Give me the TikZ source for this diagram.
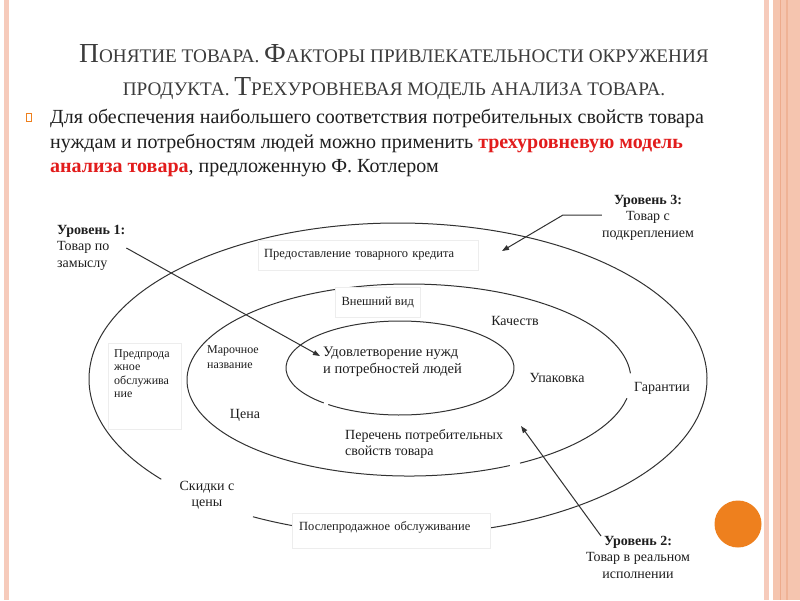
\documentclass[tikz,border=0pt]{standalone}
\usepackage{fontspec}
\setmainfont{Liberation Serif}
\usetikzlibrary{arrows.meta}
\definecolor{stripe}{RGB}{246,203,187}
\definecolor{band}{RGB}{245,197,175}
\definecolor{darkstripe}{RGB}{237,171,140}
\definecolor{orng}{RGB}{238,128,30}
\definecolor{redtxt}{RGB}{226,28,28}
\definecolor{titlecol}{RGB}{60,60,60}
\definecolor{txt}{RGB}{30,30,30}
\definecolor{linecol}{RGB}{50,50,50}
\newcommand\tbig[1]{{\fontsize{27.5}{30}\selectfont #1}}
\tikzset{
  titlest/.style={font=\fontsize{19.2}{30}\selectfont, text=titlecol, inner sep=0pt},
  bodyst/.style={font=\fontsize{20}{24.5}\selectfont, text=txt, align=left, inner sep=0pt},
  lbl/.style={font=\fontsize{14}{16}\selectfont, text=txt, inner sep=1pt},
  lvl/.style={font=\fontsize{14}{16.5}\selectfont, text=txt, inner sep=0pt},
  smalllbl/.style={font=\fontsize{12}{15}\selectfont, text=txt, inner sep=0pt},
  boxst/.style={draw=black!7, fill=white, font=\fontsize{12.5}{14}\selectfont, text=txt},
  ell/.style={draw=linecol, line width=1pt},
  arr/.style={draw=linecol, line width=1pt, -{Triangle[length=7pt,width=5pt]}}
}
\begin{document}
\begin{tikzpicture}[x=1pt,y=-1pt]
\useasboundingbox (0,0) rectangle (800,600);
\fill[white] (0,0) rectangle (800,600);
% borders
\fill[stripe] (4,0) rectangle (8.5,600);
\fill[stripe] (764,0) rectangle (768.5,600);
\fill[band] (773,0) rectangle (800,600);
\fill[darkstripe] (779.5,0) rectangle (781,600);
\fill[darkstripe!70!band] (786,0) rectangle (787.5,600);
% title
\node[titlest, anchor=base] (t1) at (394,62) {\tbig{П}ОНЯТИЕ ТОВАРА. \tbig{Ф}АКТОРЫ ПРИВЛЕКАТЕЛЬНОСТИ ОКРУЖЕНИЯ};
\node[titlest, anchor=base] (t2) at (394,95) {ПРОДУКТА. \tbig{Т}РЕХУРОВНЕВАЯ МОДЕЛЬ АНАЛИЗА ТОВАРА.};
% bullet
\node[draw=orng, line width=0.7pt, minimum width=5pt, minimum height=8pt, inner sep=0pt] (bul) at (29,117) {};
\node[bodyst, anchor=north west] (body) at (50,109) {Для обеспечения наибольшего соответствия потребительных свойств товара\\
нуждам и потребностям людей можно применить \textcolor{redtxt}{\bfseries трехуровневую модель}\\
\textcolor{redtxt}{\bfseries анализа товара}, предложенную Ф. Котлером};
% ellipses
\draw[ell] ({398+309*cos(140)},{379+156*sin(140)}) arc[start angle=140, end angle=478, x radius=309, y radius=156];
\draw[ell] ({409+222*cos(11)},{380+96*sin(11)}) arc[start angle=11, end angle=60, x radius=222, y radius=96];
\draw[ell] ({409+222*cos(63)},{380+96*sin(63)}) arc[start angle=63, end angle=356, x radius=222, y radius=96];
\draw[ell] ({400+114*cos(132)},{368+47*sin(132)}) arc[start angle=132, end angle=489, x radius=114, y radius=47];
% boxes
\node[boxst, anchor=north west, minimum width=220pt, minimum height=30pt, text width=208pt, inner xsep=6pt, align=left] (credit) at (258,240) {Предоставление товарного кредита};
\node[boxst, anchor=north west, minimum width=85pt, minimum height=30pt] (look) at (335,287) {Внешний вид};
\node[boxst, anchor=north west, minimum width=73pt, minimum height=82pt, text width=61pt, inner xsep=6pt, inner ysep=6pt, align=left, font=\fontsize{12}{13.5}\selectfont] (presale) at (108,343) {Предпрода\\жное\\обслужива\\ние\vspace{26pt}};
\node[boxst, anchor=north west, minimum width=198pt, minimum height=35pt, text width=184pt, inner xsep=7pt, align=left] (after) at (292,513) {Послепродажное обслуживание\vspace{6pt}};
% labels
\node[lvl, anchor=north west, align=left] (l1) at (57,225) {\textbf{Уровень 1:}\\Товар по\\замыслу};
\node[lvl, anchor=north, align=center] (l3) at (648,195) {\textbf{Уровень 3:}\\Товар с\\подкреплением};
\node[lvl, anchor=north, align=center] (l2) at (638,536) {\textbf{Уровень 2:}\\Товар в реальном\\исполнении};
\node[lvl, anchor=north west, align=left, font=\fontsize{14.5}{16.5}\selectfont] (core) at (323,347) {Удовлетворение нужд\\и потребностей людей};
\node[smalllbl, anchor=north west, align=left] (brand) at (207,345) {Марочное\\название};
\node[lbl] (price) at (245,415) {Цена};
\node[lbl] (quality) at (515,321) {Качеств};
\node[lbl] (pack) at (557,378) {Упаковка};
\node[lbl] (guar) at (662,388) {Гарантии};
\node[lvl, anchor=north west, align=left] (props) at (345,429) {Перечень потребительных\\свойств товара};
\node[lvl, anchor=north, align=center] (disc) at (207,481) {Скидки с\\цены};
% arrows
\coordinate (a1e) at (320,356);
\coordinate (a3k) at (563,215);
\coordinate (a3e) at (502,251);
\coordinate (a2e) at (521,426);
\draw[arr] ([xshift=1pt]l1.north east |- 0,248) -- (a1e);
\draw[arr] (l3.west |- 0,215) -- (a3k) -- (a3e);
\draw[arr] ([xshift=-37pt]l2.north) -- (a2e);
% orange circle
\fill[orng] (738,524) circle[radius=23.5];
\end{tikzpicture}
\end{document}
